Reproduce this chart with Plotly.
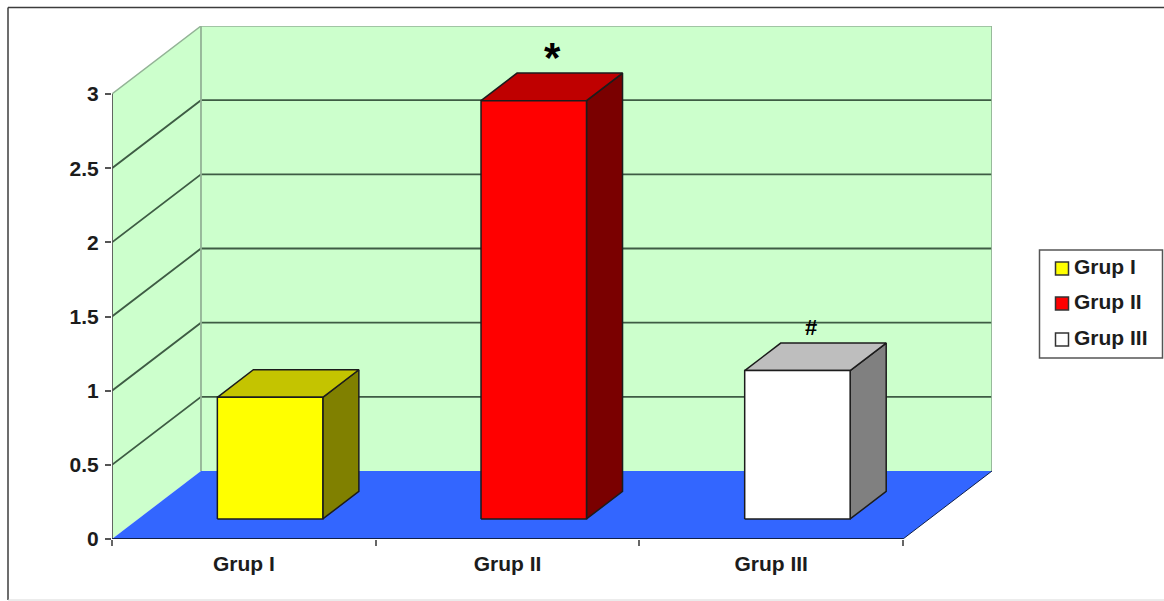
import plotly.graph_objects as go

# chart values
categories = ["Grup I", "Grup II", "Grup III"]
values = [0.82, 2.82, 1.0]
markers = [None, "*", "#"]
front_colors = ["#ffff00", "#ff0000", "#ffffff"]
top_colors = ["#c4c400", "#bf0000", "#bebebe"]
side_colors = ["#808000", "#7a0000", "#808080"]
y_ticks = [0, 0.5, 1, 1.5, 2, 2.5, 3]
y_tick_text = ["0", "0.5", "1", "1.5", "2", "2.5", "3"]

# oblique projection: a unit of depth shifts a point right and up
DX, DY = 0.3375, 0.4585
BAR_WIDTH = 0.40
BAR_NEAR, BAR_FAR = 0.295, 0.70
Y_MAX = 3
X_MAX = len(categories)

FONT = "Liberation Sans"
INK = "#1c1c1c"
WALL = "#ccffcc"
FLOOR = "#3366ff"
GRID = "#3e5c44"
WALL_EDGE = "#93b396"

W, H = 1164, 601
ML, MR, MT, MB = 112, 172, 26, 62


def project(x, depth, v):
    return x + depth * DX, v + depth * DY


def polygon(points, fill, line=None, width=1.0, name=None):
    xs, ys = zip(*(project(*p) for p in points))
    return go.Scatter(
        x=list(xs) + [xs[0]], y=list(ys) + [ys[0]], mode="lines", fill="toself",
        fillcolor=fill, line=dict(color=line or fill, width=width if line else 0),
        hoverinfo="skip", showlegend=False, cliponaxis=False, name=name,
    )


def polyline(points, color, width=1.5):
    xs, ys = zip(*(project(*p) for p in points))
    return go.Scatter(
        x=list(xs), y=list(ys), mode="lines", line=dict(color=color, width=width),
        hoverinfo="skip", showlegend=False, cliponaxis=False,
    )


fig = go.Figure()

# walls and floor
fig.add_trace(polygon([(0, 0, 0), (0, 1, 0), (0, 1, Y_MAX), (0, 0, Y_MAX)], WALL))
fig.add_trace(polygon([(0, 1, 0), (X_MAX, 1, 0), (X_MAX, 1, Y_MAX), (0, 1, Y_MAX)], WALL))
fig.add_trace(polygon([(0, 0, 0), (X_MAX, 0, 0), (X_MAX, 1, 0), (0, 1, 0)], FLOOR))

# gridlines wrap from the side wall across the back wall
for v in y_ticks[1:-1]:
    fig.add_trace(polyline([(0, 0, v), (0, 1, v), (X_MAX, 1, v)], GRID, 1.8))
fig.add_trace(polyline([(0, 0, Y_MAX), (0, 1, Y_MAX), (X_MAX, 1, Y_MAX)], WALL_EDGE, 1.5))
fig.add_trace(polyline([(0, 1, 0), (0, 1, Y_MAX)], WALL_EDGE, 1.8))
fig.add_trace(polyline([(X_MAX, 1, 0), (X_MAX, 1, Y_MAX)], WALL_EDGE, 1.8))

# axis lines
fig.add_trace(polyline([(0, 0, 0), (0, 0, Y_MAX)], "#555555", 1.8))
fig.add_trace(polyline([(0, 0, 0), (X_MAX, 0, 0)], "#10204a", 1.8))
fig.add_trace(polyline([(X_MAX, 0, 0), (X_MAX, 1, 0)], "#10204a", 1.0))

# bars: front, side and top faces
for i, (name, v) in enumerate(zip(categories, values)):
    left = i + 0.5 - BAR_WIDTH / 2
    right = i + 0.5 + BAR_WIDTH / 2
    fig.add_trace(polygon(
        [(right, BAR_NEAR, 0), (right, BAR_FAR, 0), (right, BAR_FAR, v), (right, BAR_NEAR, v)],
        side_colors[i], INK, 1.5))
    fig.add_trace(polygon(
        [(left, BAR_NEAR, v), (right, BAR_NEAR, v), (right, BAR_FAR, v), (left, BAR_FAR, v)],
        top_colors[i], INK, 1.5))
    fig.add_trace(polygon(
        [(left, BAR_NEAR, 0), (right, BAR_NEAR, 0), (right, BAR_NEAR, v), (left, BAR_NEAR, v)],
        front_colors[i], INK, 1.5, name=name))

# significance marks above the bars
annotations = []
for i, mark in enumerate(markers):
    if mark is None:
        continue
    mx, my = project(i + 0.5, (BAR_NEAR + BAR_FAR) / 2, values[i])
    big = mark == "*"
    annotations.append(dict(
        x=mx, y=my, xref="x", yref="y", text=f"<b>{mark}</b>", showarrow=False,
        font=dict(family=FONT, size=42 if big else 22, color="#000000"),
        xanchor="center", yanchor="middle",
        xshift=1 if big else -4, yshift=29 if big else 29,
    ))


def px_x(p):
    return (p - ML) / (W - ML - MR)


def px_y(p):
    return 1 - (p - MT) / (H - MT - MB)


# legend box, laid out by hand so the swatches sit tight against their labels
LEGEND_ROWS = [267, 302, 338]
shapes = [dict(type="rect", xref="paper", yref="paper",
               x0=px_x(1039.5), x1=px_x(1162.5), y0=px_y(250), y1=px_y(358),
               line=dict(color="#555555", width=1.5), fillcolor="#ffffff")]
for name, color, row in zip(categories, front_colors, LEGEND_ROWS):
    shapes.append(dict(type="rect", xref="paper", yref="paper",
                       x0=px_x(1055.5), x1=px_x(1068.5), y0=px_y(row + 1.5 - 6.5), y1=px_y(row + 1.5 + 6.5),
                       line=dict(color="#333333", width=1.5), fillcolor=color))
    annotations.append(dict(
        x=px_x(1072), y=px_y(row - 1), xref="paper", yref="paper", text=f"<b>{name}</b>",
        showarrow=False, xanchor="left", yanchor="middle",
        font=dict(family=FONT, size=21, color=INK),
    ))

# outer chart frame
shapes += [
    dict(type="line", xref="paper", yref="paper", x0=px_x(8), x1=px_x(8), y0=px_y(7.5), y1=px_y(600),
         line=dict(color="#3c3c3c", width=1.5)),
    dict(type="line", xref="paper", yref="paper", x0=px_x(8), x1=px_x(1164), y0=px_y(7.5), y1=px_y(7.5),
         line=dict(color="#3c3c3c", width=1.5)),
    dict(type="line", xref="paper", yref="paper", x0=px_x(8), x1=px_x(1164), y0=px_y(600), y1=px_y(600),
         line=dict(color="#d8d8d8", width=1)),
]

fig.update_layout(
    width=W, height=H, autosize=False,
    margin=dict(l=ML, r=MR, t=MT, b=MB, pad=0),
    paper_bgcolor="#ffffff", plot_bgcolor="rgba(0,0,0,0)",
    showlegend=False, annotations=annotations, shapes=shapes,
    font=dict(family=FONT, color=INK),
    xaxis=dict(
        range=[0, X_MAX + DX], showgrid=False, zeroline=False, showline=False,
        tickmode="array", tickvals=[i + 0.5 for i in range(X_MAX)],
        ticktext=[f"<b>{c}</b>" for c in categories], ticks="",
        tickfont=dict(family=FONT, size=21, color=INK),
        minor=dict(tickmode="array", tickvals=list(range(X_MAX + 1)), ticks="outside",
                   ticklen=6, tickwidth=1.5, tickcolor="#666666", showgrid=False),
        ticklabelstandoff=10,
    ),
    yaxis=dict(
        range=[0, Y_MAX + DY], showgrid=False, zeroline=False, showline=False,
        tickmode="array", tickvals=y_ticks,
        ticktext=[f"<b>{t}</b>" for t in y_tick_text], ticks="outside",
        ticklen=6, tickwidth=1.5, tickcolor="#555555",
        tickfont=dict(family=FONT, size=21, color=INK),
        ticklabelstandoff=2,
    ),
)

fig.write_html("out.html", config=dict(displayModeBar=False))
